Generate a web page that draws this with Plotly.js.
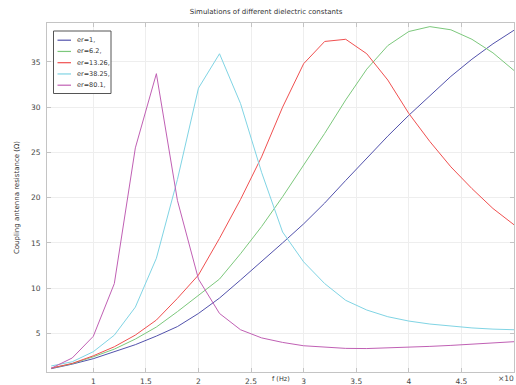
<!DOCTYPE html>
<html>
<head>
<meta charset="utf-8">
<script src="https://cdn.plot.ly/plotly-3.0.1.min.js"></script>
<style>html,body{margin:0;padding:0;background:#fff;}#chart{width:516px;height:385px;}</style>
</head>
<body>
<div id="chart"></div>
<script>
// frequency (×10^9 Hz)
const freq = [0.6,0.8,1.0,1.2,1.4,1.6,1.8,2.0,2.2,2.4,2.6,2.8,3.0,3.2,3.4,3.6,3.8,4.0,4.2,4.4,4.6,4.8,5.0];
const er1    = [1.1,1.6,2.2,2.95,3.75,4.7,5.75,7.2,8.9,10.9,12.9,15.0,17.1,19.4,21.9,24.4,26.8,29.1,31.3,33.4,35.3,37.0,38.5];
const er6_2  = [1.15,1.65,2.41,3.26,4.37,5.7,7.4,9.2,11.0,13.8,16.8,20.1,23.6,27.1,30.8,34.2,36.8,38.36,38.9,38.55,37.5,36.0,34.05];
const er13_26= [1.16,1.68,2.52,3.52,4.81,6.47,8.87,11.45,15.5,19.8,24.5,30.0,34.8,37.26,37.5,35.9,33.0,29.3,26.2,23.4,21.0,18.8,17.0];
const er38_25= [1.4,1.86,2.97,4.8,7.9,13.3,22.0,32.1,35.9,30.4,22.8,16.2,12.9,10.5,8.65,7.58,6.84,6.36,6.03,5.8,5.6,5.47,5.4];
const er80_1 = [1.14,2.28,4.67,10.5,25.5,33.7,19.7,11.0,7.2,5.4,4.5,4.0,3.63,3.45,3.34,3.32,3.38,3.45,3.56,3.67,3.78,3.93,4.08];

const seriesNames = ["er=1,","er=6.2,","er=13.26,","er=38.25,","er=80.1,"];
const seriesData = [er1, er6_2, er13_26, er38_25, er80_1];
const seriesColors = ["#5252ac","#7cc87c","#f05050","#80d4e4","#c060b4"];

const xTickVals = [1,1.5,2,2.5,3,3.5,4,4.5];
const xTickText = ["1","1.5","2","2.5","3","3.5","4","4.5"];
const xExponentLabel = "×10";
const yTickVals = [5,10,15,20,25,30,35];

const titleText = "Simulations of different dielectric constants";
const xTitle = "f (Hz)";
const yTitle = "Coupling antenna resistance (Ω)";

const W = 516, H = 385;
const L = 47, R = 514, T = 23, B = 372;
const px2x = p => (p - L) / (R - L);
const py2y = p => (B - p) / (B - T);

const FONT = "DejaVu Sans, sans-serif";

const traces = seriesData.map((d, i) => ({
  x: freq, y: d, type: 'scatter', mode: 'lines', name: seriesNames[i],
  line: {color: seriesColors[i], width: 1}, showlegend: false
}));

// custom compact legend
const shapes = [{
  type: 'rect', xref: 'paper', yref: 'paper',
  x0: px2x(53.5), x1: px2x(111), y0: py2y(93.5), y1: py2y(31),
  line: {color: '#555', width: 1}, fillcolor: 'rgba(255,255,255,1)', layer: 'above'
}];
const annotations = [];
seriesNames.forEach((n, i) => {
  const yy = 40.2 + i * 11.25;
  shapes.push({type: 'line', xref: 'paper', yref: 'paper',
    x0: px2x(57.5), x1: px2x(71), y0: py2y(yy), y1: py2y(yy),
    line: {color: seriesColors[i], width: 1.2}, layer: 'above'});
  annotations.push({xref: 'paper', yref: 'paper', x: px2x(74.5), y: py2y(yy),
    xanchor: 'left', yanchor: 'middle', text: n, showarrow: false,
    font: {family: FONT, size: 6.5, color: '#333'}});
});
annotations.push({xref: 'paper', yref: 'paper', x: px2x(281), y: py2y(385),
  xanchor: 'center', yanchor: 'bottom', text: xTitle, showarrow: false,
  font: {family: FONT, size: 6.5, color: '#333'}});
annotations.push({xref: 'paper', yref: 'paper', x: px2x(516), y: py2y(378.5),
  xanchor: 'right', yanchor: 'middle', text: xExponentLabel, showarrow: false,
  font: {family: FONT, size: 7.5, color: '#444'}});

const axisCommon = {
  showgrid: true, gridcolor: '#eeeeee', gridwidth: 1, zeroline: false,
  showline: true, linecolor: '#c4c4c4', linewidth: 1, mirror: 'ticks',
  ticks: 'inside', ticklen: 4, tickcolor: '#c4c4c4',
  tickfont: {family: FONT, size: 7.5, color: '#444'}
};

const layout = {
  width: W, height: H,
  margin: {l: L, r: W - R, t: T, b: H - B, pad: 0},
  paper_bgcolor: '#fff', plot_bgcolor: '#fff',
  showlegend: false,
  title: {text: titleText, x: 266 / W, xanchor: 'center', xref: 'container',
          y: 1 - 12 / H, yref: 'container', yanchor: 'middle',
          font: {family: FONT, size: 7, color: '#333'}},
  xaxis: Object.assign({}, axisCommon, {range: [0.56, 5.0], tickmode: 'array',
          tickvals: xTickVals, ticktext: xTickText, ticklabelstandoff: 2}),
  yaxis: Object.assign({}, axisCommon, {range: [0.73, 39.3], tickmode: 'array',
          tickvals: yTickVals, ticklabelstandoff: 4,
          title: {text: yTitle, standoff: 10, font: {family: FONT, size: 7, color: '#333'}}}),
  shapes: shapes, annotations: annotations
};

Plotly.newPlot('chart', traces, layout, {staticPlot: true, displayModeBar: false});
</script>
</body>
</html>
